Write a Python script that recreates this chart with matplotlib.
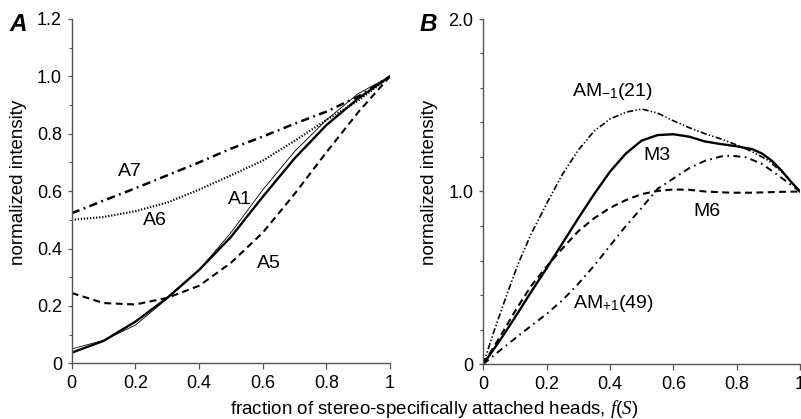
import matplotlib
matplotlib.use("Agg")
import matplotlib.pyplot as plt
import numpy as np

plt.rcParams['font.family'] = ['Liberation Sans', 'DejaVu Sans']
plt.rcParams['mathtext.fontset'] = 'custom'
plt.rcParams['mathtext.rm'] = 'Liberation Sans'
plt.rcParams['mathtext.it'] = 'Liberation Serif:italic'
plt.rcParams['lines.scale_dashes'] = False

# ---- Panel A: actin layer lines, sampled every 0.1 of f(S) ----
fs_a = [0.0, 0.1, 0.2, 0.3, 0.4, 0.5, 0.6, 0.7, 0.8, 0.9, 1.0]
a1_thin = [0.05, 0.08, 0.133, 0.225, 0.325, 0.455, 0.604, 0.738, 0.848, 0.94, 1.0]
a1_thick = [0.037, 0.078, 0.145, 0.228, 0.325, 0.44, 0.58, 0.714, 0.83, 0.923, 1.0]
a5 = [0.245, 0.21, 0.205, 0.228, 0.27, 0.35, 0.455, 0.59, 0.735, 0.875, 1.0]
a6 = [0.50, 0.51, 0.53, 0.56, 0.605, 0.655, 0.706, 0.775, 0.848, 0.915, 1.0]
a7 = [0.523, 0.567, 0.61, 0.655, 0.70, 0.748, 0.79, 0.835, 0.877, 0.93, 1.0]

# ---- Panel B: meridional reflections ----
am_m1_x = [0, 0.032, 0.068, 0.11, 0.15, 0.2, 0.25, 0.3, 0.35, 0.4, 0.45, 0.5,
           0.55, 0.6, 0.65, 0.7, 0.75, 0.8, 0.85, 0.9, 0.95, 1.0]
am_m1_y = [0, 0.18, 0.37, 0.58, 0.75, 0.93, 1.10, 1.24, 1.35, 1.42, 1.46, 1.478,
           1.455, 1.41, 1.37, 1.335, 1.305, 1.27, 1.23, 1.18, 1.10, 1.0]

m3_x = [0, 0.05, 0.1, 0.15, 0.2, 0.25, 0.3, 0.35, 0.4, 0.45, 0.5, 0.55, 0.6,
        0.65, 0.7, 0.75, 0.8, 0.85, 0.88, 0.91, 0.94, 0.97, 1.0]
m3_y = [0, 0.13, 0.27, 0.415, 0.555, 0.70, 0.845, 0.985, 1.115, 1.22, 1.295,
        1.327, 1.332, 1.318, 1.29, 1.275, 1.262, 1.245, 1.22, 1.18, 1.125,
        1.06, 1.0]

m6_x = [0, 0.05, 0.1, 0.15, 0.2, 0.25, 0.3, 0.35, 0.4, 0.45, 0.5, 0.55, 0.6,
        0.65, 0.7, 0.78, 0.85, 0.94, 1.0]
m6_y = [0, 0.15, 0.305, 0.45, 0.565, 0.67, 0.77, 0.845, 0.905, 0.95, 0.985,
        1.003, 1.012, 1.01, 1.0, 0.993, 0.993, 0.998, 1.0]

am_p1_x = [0, 0.05, 0.1, 0.15, 0.2, 0.25, 0.3, 0.35, 0.4, 0.45, 0.5, 0.55,
           0.6, 0.65, 0.7, 0.75, 0.78, 0.83, 0.88, 0.93, 1.0]
am_p1_y = [0, 0.075, 0.148, 0.22, 0.29, 0.37, 0.465, 0.57, 0.685, 0.80, 0.905,
           1.015, 1.075, 1.135, 1.178, 1.203, 1.208, 1.198, 1.16, 1.095, 1.0]

W, H = 801, 419
fig = plt.figure(figsize=(W / 100, H / 100), dpi=100)

spine_col = '#555555'
tick_fs = 13
lab_fs = 13.5
curve_fs = 14


def px_axes(x0, x1, y0, y1):
    return fig.add_axes([x0 / W, 1 - y1 / H, (x1 - x0) / W, (y1 - y0) / H])


def style(ax):
    for s in ('top', 'right'):
        ax.spines[s].set_visible(False)
    for s in ('left', 'bottom'):
        ax.spines[s].set_color(spine_col)
        ax.spines[s].set_linewidth(1.0)
    ax.tick_params(which='major', direction='out', length=3.0, width=0.9,
                   color=spine_col, labelsize=tick_fs, pad=4, labelcolor='black')
    ax.tick_params(which='minor', direction='out', length=2.2, width=0.8,
                   color=spine_col)
    ax.tick_params(axis='x', which='major', length=4.5)
    ax.patch.set_visible(False)


def label(ax, x, y, s):
    ax.text(x / W, 1 - y / H, s, transform=fig.transFigure, fontsize=curve_fs,
            ha='center', va='center')


# Panel A
axA = px_axes(71.7, 390, 19, 363.3)
style(axA)
axA.set_xlim(0, 1)
axA.set_ylim(0, 1.2)
axA.set_xticks([0, 0.2, 0.4, 0.6, 0.8, 1.0])
axA.set_xticklabels(['0', '0.2', '0.4', '0.6', '0.8', '1'])
axA.set_yticks([0, 0.2, 0.4, 0.6, 0.8, 1.0, 1.2])
axA.set_yticklabels(['0', '0.2', '0.4', '0.6', '0.8', '1.0', '1.2'])
axA.set_yticks(np.arange(0.1, 1.2, 0.2), minor=True)

axA.plot(fs_a, a7, color='black', lw=1.8, linestyle=(0, (6, 3.2, 1.3, 3.2)))
axA.plot(fs_a, a6, color='black', lw=1.6, linestyle=(0, (0.9, 1.3)))
axA.plot(fs_a, a1_thin, color='black', lw=0.6)
axA.plot(fs_a, a1_thick, color='black', lw=1.7)
axA.plot(fs_a, a5, color='black', lw=1.5, linestyle=(0, (5, 3.2)))

label(axA, 130, 172, 'A7')
label(axA, 155, 220, 'A6')
label(axA, 240, 199, 'A1')
label(axA, 269, 264, 'A5')

# Panel B
axB = px_axes(483.3, 800, 19, 364)
style(axB)
axB.set_xlim(0, 1)
axB.set_ylim(0, 2.0)
axB.set_xticks([0, 0.2, 0.4, 0.6, 0.8, 1.0])
axB.set_xticklabels(['0', '0.2', '0.4', '0.6', '0.8', '1'])
axB.set_yticks([0, 1.0, 2.0])
axB.set_yticklabels(['0', '1.0', '2.0'])
axB.set_yticks([0.2, 0.4, 0.6, 0.8, 1.2, 1.4, 1.6, 1.8], minor=True)

axB.plot(am_m1_x, am_m1_y, color='black', lw=1.2,
         linestyle=(0, (4.5, 1.6, 1, 1.6, 1, 1.6)))
axB.plot(m3_x, m3_y, color='black', lw=1.7)
axB.plot(m6_x, m6_y, color='black', lw=1.5, linestyle=(0, (5, 3.2)))
axB.plot(am_p1_x, am_p1_y, color='black', lw=1.4,
         linestyle=(0, (5, 3.2, 1.2, 3.2)))

label(axB, 612, 92, r'AM$_{\mathregular{-1}}$(21)')
label(axB, 657, 155, 'M3')
label(axB, 707, 211, 'M6')
label(axB, 613, 303, r'AM$_{\mathregular{+1}}$(49)')

# Axis labels and panel letters
for cx in (19, 429):
    fig.text(cx / W, 1 - 182 / H, 'normalized intensity', rotation=90,
             ha='center', va='center', fontsize=lab_fs)

fig.text(434 / W, 5 / H, r'fraction of stereo-specifically attached heads, $\mathit{f(S)}$',
         ha='center', va='baseline', fontsize=lab_fs)

fig.text(18.5 / W, 1 - 24.5 / H, 'A', fontsize=17.5, fontweight='bold', style='italic',
         ha='center', va='center')
fig.text(428 / W, 1 - 24.5 / H, 'B', fontsize=17.5, fontweight='bold', style='italic',
         ha='center', va='center')

fig.savefig('out.png', dpi=100, facecolor='white')
